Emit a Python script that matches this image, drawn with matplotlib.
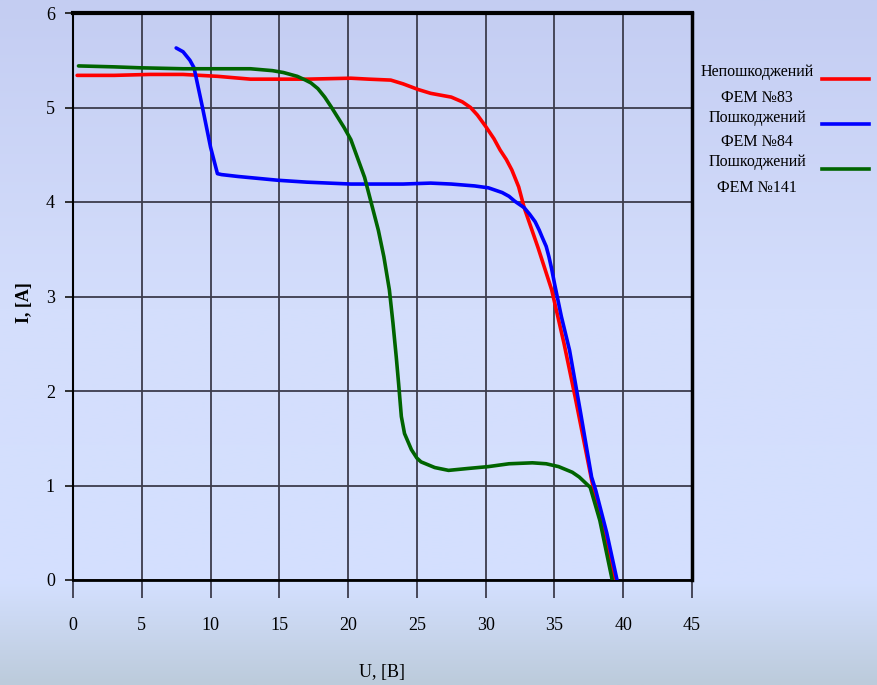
import numpy as np
import matplotlib
matplotlib.use("Agg")
import matplotlib.pyplot as plt
from matplotlib.lines import Line2D

plt.rcParams['font.family'] = ['Liberation Serif', 'DejaVu Serif']

# data
u_83 = [0.3, 3, 5.6, 8, 10.5, 12.9, 14.9, 17, 20.2, 21.5, 23.1, 24, 25.1, 26, 27.5, 28.3, 28.9, 29.4,
        30, 30.6, 31.05, 31.5, 31.9, 32.4, 32.8, 33.8, 34.8, 35.7, 36.5, 37.7, 38.5, 39.35]
i_83 = [5.34, 5.34, 5.35, 5.35, 5.33, 5.30, 5.30, 5.30, 5.31, 5.30, 5.29, 5.25, 5.19, 5.15, 5.11, 5.06, 5.00, 4.92,
        4.80, 4.67, 4.55, 4.45, 4.34, 4.16, 3.94, 3.52, 3.07, 2.5, 1.94, 1.06, 0.55, 0.0]

u_84 = [7.5, 8.0, 8.5, 8.8, 9.4, 10.0, 10.5, 10.8, 12, 14.9, 17, 20.2, 22, 24, 26, 27.5, 29.2, 30.2,
        31.2, 31.7, 32.1, 32.5, 32.8, 33.2, 33.6, 33.9, 34.1, 34.4, 34.6, 34.8, 35.0, 35.5, 36.1,
        36.9, 37.7, 38.0, 38.8, 39.55]
i_84 = [5.63, 5.59, 5.50, 5.42, 5.01, 4.58, 4.30, 4.29, 4.27, 4.23, 4.21, 4.19, 4.19, 4.19, 4.20, 4.19, 4.17, 4.15,
        4.10, 4.06, 4.01, 3.97, 3.94, 3.87, 3.79, 3.70, 3.63, 3.53, 3.42, 3.29, 3.14, 2.79, 2.43,
        1.77, 1.09, 0.95, 0.5, 0.0]

u_141 = [0.4, 3, 4.9, 8, 11, 12.9, 14.5, 15.3, 16.3, 16.9, 17.3, 17.8, 18.3, 18.8, 19.7, 20.2, 21.2,
         22.2, 22.6, 23.0, 23.26, 23.5, 23.67, 23.87, 24.1, 24.6, 25.0, 25.3, 26.3, 27.3, 28.7, 30.2,
         31.7, 33.4, 34.4, 35.3, 36.3, 36.8, 37.6, 38.3, 39.2]
i_141 = [5.44, 5.43, 5.42, 5.41, 5.41, 5.41, 5.39, 5.37, 5.33, 5.29, 5.26, 5.20, 5.11, 5.0, 4.79, 4.66, 4.26,
         3.70, 3.42, 3.07, 2.72, 2.36, 2.08, 1.73, 1.55, 1.38, 1.29, 1.25, 1.19, 1.16, 1.18, 1.20,
         1.23, 1.24, 1.23, 1.20, 1.14, 1.09, 0.98, 0.63, 0.0]

labels = ["Непошкоджений\nФЕМ №83", "Пошкоджений\nФЕМ №84", "Пошкоджений\nФЕМ №141"]
colors = ["#ff0000", "#0000ff", "#006400"]
x_ticks = [0, 5, 10, 15, 20, 25, 30, 35, 40, 45]
y_ticks = [0, 1, 2, 3, 4, 5, 6]

fig = plt.figure(figsize=(8.78, 6.85), dpi=100)

# background gradient
bg = fig.add_axes([0, 0, 1, 1], zorder=-10)
pos = [0.0, 0.45, 0.85, 1.0]
rgb = np.array([[196, 205, 242], [212, 222, 252], [212, 224, 255], [188, 203, 219]]) / 255
yy = np.linspace(0, 1, 400)
grad = np.stack([np.interp(yy, pos, rgb[:, k]) for k in range(3)], axis=-1)
bg.imshow(grad[:, None, :], aspect='auto', extent=[0, 1, 0, 1])
bg.axis('off')

ax = fig.add_axes([73 / 878, 1 - 580 / 685, 619 / 878, 567 / 685])
ax.patch.set_alpha(0)

for u, i, c in zip([u_83, u_84, u_141], [i_83, i_84, i_141], colors):
    ax.plot(u, i, color=c, lw=2.6, solid_capstyle='round', solid_joinstyle='round', zorder=3)

ax.set_xlim(0, 45)
ax.set_ylim(0, 6)
ax.set_xticks(x_ticks)
ax.set_yticks(y_ticks)
ax.grid(True, color='#3c3c4c', lw=1.3, zorder=1)
ax.tick_params(axis='x', length=13, width=1.3, color='#3c3c4c', pad=14, labelsize=13)
ax.tick_params(axis='y', length=6, width=1.3, color='#222222', pad=7, labelsize=13)

ax.spines['top'].set_linewidth(3)
ax.spines['right'].set_linewidth(2.5)
ax.spines['bottom'].set_linewidth(2)
ax.spines['left'].set_linewidth(1.5)
for s in ax.spines.values():
    s.set_color('black')

fig.text(25 / 878, 1 - 303 / 685, "I, [A]", rotation=90, fontsize=13, fontweight='bold',
         ha='center', va='center')
fig.text(382 / 878, 1 - 673 / 685, "U, [B]", fontsize=13, ha='center', va='center')

# legend on the right, text then line sample
ly = [79, 124, 169]
for lab, c, y in zip(labels, colors, ly):
    fig.text(757 / 878, 1 - (y + 6) / 685, lab, fontsize=11.5, ha='center', va='center',
             multialignment='center', linespacing=1.75)
    fig.add_artist(Line2D([822 / 878, 869 / 878], [1 - y / 685, 1 - y / 685], color=c, lw=2.6))

plt.savefig('out.png', dpi=100)
